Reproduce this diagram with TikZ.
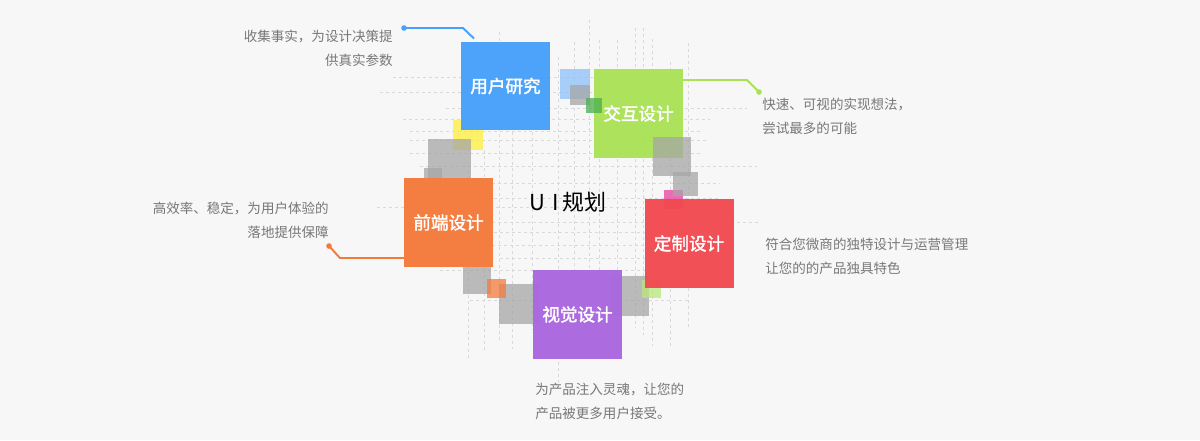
\documentclass[tikz,border=0pt]{standalone}
\usepackage{fontspec}
\setmainfont{Noto Sans CJK SC}[AutoFakeBold=2]
\usepackage{tikz}
\usetikzlibrary{calc}

\definecolor{bgcol}{HTML}{F7F7F7}
\definecolor{gridcol}{HTML}{D9D9D9}
\definecolor{notecol}{HTML}{777777}
\definecolor{ublue}{HTML}{47A0FB}
\definecolor{ugreen}{HTML}{A9E256}
\definecolor{uorange}{HTML}{F47A3B}
\definecolor{ured}{HTML}{F14A50}
\definecolor{upurple}{HTML}{A967DF}
\definecolor{lblue}{HTML}{8CC1F9}
\definecolor{uyellow}{HTML}{FEF03A}
\definecolor{umagenta}{HTML}{E8409F}
\definecolor{dgreen}{HTML}{4AAE4E}
\definecolor{lgreen}{HTML}{B9E77A}
\definecolor{ugray}{HTML}{A6A6A6}

\tikzset{
  tile/.style={minimum size=1.78cm, inner sep=0pt, outer sep=0pt, text=white,
    font=\fontsize{10}{12}\selectfont\bfseries, fill opacity=0.96, text opacity=1},
  patch/.style={fill=#1, fill opacity=0.75},
  gridline/.style={draw=gridcol, line width=0.5pt, dash pattern=on 1.7pt off 1.7pt},
  note/.style={text=notecol, font=\fontsize{7.7}{13.6}\selectfont, inner sep=0pt},
  lead/.style={draw=#1, line width=1.1pt}
}

\begin{document}
\begin{tikzpicture}[x=0.02cm, y=-0.02cm]

\fill[bgcol] (0,0) rectangle (1200,440);
\useasboundingbox (0,0) rectangle (1200,440);

\foreach \gy/\ga/\gb in {77/393/600, 92/380/600, 108/446/747, 119/403/710, 131/410/700,
  140/410/707, 153/410/700, 166/420/757, 183/420/720, 198/440/720, 207/377/640,
  222/420/760, 232/440/700, 245/420/700, 258/500/700, 270/440/660, 300/470/690}
  \draw[gridline] (\ga,\gy) -- (\gb,\gy);
\foreach \gx/\ga/\gb in {468/170/360, 484/150/353, 499/32/340, 512/120/349, 532/60/330,
  558/57/385, 574/42/300, 589/20/300, 599/40/300, 617/40/300,
  635/28/328, 643/28/335, 652/39/346, 670/62/346, 688/43/327}
  \draw[gridline] (\gx,\ga) -- (\gx,\gb);

\fill[patch=lblue] (560,69) rectangle (590,99);
\fill[patch=ugray] (570,85) rectangle (590,105);
\fill[patch=uyellow] (453,120) rectangle (483,150);
\fill[patch=ugray] (428,139) rectangle (471,178);
\fill[patch=ugray] (424,168) rectangle (442,178);
\fill[patch=umagenta] (664,190) rectangle (683,209);
\fill[patch=ugray] (673,172) rectangle (698,196);
\fill[patch=ugray] (463,267) rectangle (491,294);
\fill[patch=ugray] (499,284) rectangle (539,324);
\fill[patch=uorange] (487,279) rectangle (506,298);
\fill[patch=ugray] (610,276) rectangle (649,316);
\fill[patch=lgreen] (642,280) rectangle (661,298);

\node[tile, fill=ublue] (yhyj) at (505.5,86) {用户研究};
\node[tile, fill=ugreen] (jhsj) at (638.5,113.5) {交互设计};
\node[tile, fill=uorange] (qdsj) at (448.5,222.5) {前端设计};
\node[tile, fill=ured] (dzsj) at (689,243.5) {定制设计};
\node[tile, fill=upurple] (sjsj) at (577.5,314.5) {视觉设计};

\fill[patch=dgreen] (586,98) rectangle (602,113);
\fill[patch=ugray] (653,137) rectangle (691,176);

\node (uigh) at (568,202) {\fontsize{12.5}{15}\selectfont U\hspace{0.3em}I\hspace{0.15em}规划};

\coordinate (yhdot) at (404,28);
\coordinate (jhdot) at (759,92);
\coordinate (qddot) at (329,246);
\draw[lead=ublue] (yhdot) -- ++(59,0) -- ($(yhyj.north west)+(13,-3)$);
\fill[ublue] (yhdot) circle (1.6pt);
\draw[lead=ugreen] (jhsj.east |- 0,80) -- (747,80) -- (jhdot);
\fill[ugreen] (jhdot) circle (1.6pt);
\draw[lead=uorange] (qddot) -- (340,258) -- (qdsj.west |- 0,258);
\fill[uorange] (qddot) circle (1.6pt);

\node[note, anchor=east, align=right] (yhnote) at (393,48) {收集事实，为设计决策提\\供真实参数};
\node[note, anchor=west, align=left] (jhnote) at (762,116) {快速、可视的实现想法，\\尝试最多的可能};
\node[note, anchor=east, align=right] (qdnote) at (329,220) {高效率、稳定，为用户体验的\\落地提供保障};
\node[note, anchor=west, align=left] (dznote) at (765,256) {符合您微商的独特设计与运营管理\\让您的的产品独具特色};
\node[note, anchor=west, align=left] (sjnote) at (535,401) {为产品注入灵魂，让您的\\产品被更多用户接受。};

\end{tikzpicture}
\end{document}
